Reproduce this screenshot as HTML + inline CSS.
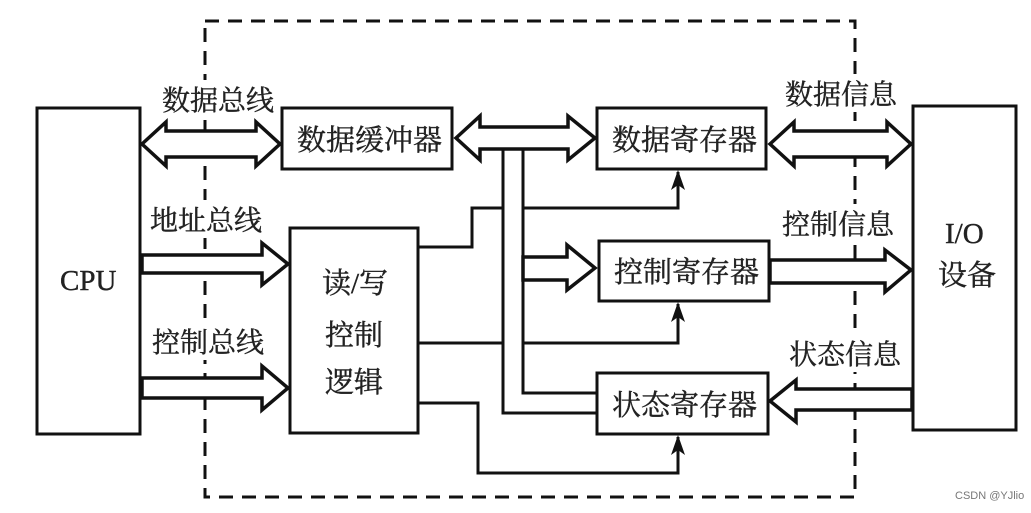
<!DOCTYPE html>
<html><head><meta charset="utf-8"><style>
body{margin:0;background:#fff;}
svg text{font-family:"Liberation Serif","Noto Serif CJK SC","Noto Sans CJK SC",serif;fill:#222;}
</style></head><body>
<svg width="1031" height="508" viewBox="0 0 1031 508" xmlns="http://www.w3.org/2000/svg">
<g fill="none" stroke="#111" stroke-width="3">
<rect x="205" y="21" width="650" height="476" stroke-dasharray="14,9"/>
</g>
<g fill="#fff">
<rect x="160" y="80" width="114" height="38"/>
<rect x="148" y="200" width="116" height="38"/>
<rect x="150" y="322" width="116" height="38"/>
<rect x="783" y="74" width="116" height="38"/>
<rect x="780" y="204" width="116" height="38"/>
<rect x="787" y="334" width="116" height="38"/>
</g>
<g fill="#fff" stroke="#111" stroke-width="3.5">
<polygon points="142,144 166,122 166,131 256,131 256,122 280,144 256,166 256,157 166,157 166,166"/>
<polygon points="142,255 262,255 262,243 288,264 262,285 262,273 142,273"/>
<polygon points="142,378 262,378 262,366 288,388 262,410 262,398 142,398"/>
<polygon points="456,138 480,116 480,127 568,127 568,116 595,138 568,160 568,149 480,149 480,160"/>
<polygon points="770,144 794,122 794,131 887,131 887,122 911,144 887,166 887,157 794,157 794,166"/>
<polygon points="770,260 885,260 885,250 911,270 885,292 885,283 770,283"/>
<polygon points="770,401 796,380 796,389 912,389 912,410 796,410 796,422"/>
<polygon points="523,257 567,257 567,245 595,268 567,290 567,280 523,280"/>
</g>
<g fill="none" stroke="#111" stroke-width="3">
<rect x="37" y="108" width="103" height="326"/>
<rect x="282" y="108" width="170" height="61"/>
<rect x="290" y="228" width="128" height="205"/>
<rect x="597" y="108" width="169" height="61"/>
<rect x="599" y="241" width="170" height="60"/>
<rect x="597" y="373" width="171" height="61"/>
<rect x="913" y="106" width="103" height="324"/>
<polyline points="503,149 503,413 597,413"/>
<polyline points="523,149 523,257"/>
<polyline points="523,280 523,393 597,393"/>
<polyline points="418,247 472,247 472,208 503,208"/>
<polyline points="523,208 678,208 678,172"/>
<polyline points="418,343 503,343"/>
<polyline points="523,343 678,343 678,304"/>
<polyline points="418,403 478,403 478,473 678,473 678,437"/>
</g>
<g fill="#111">
<polygon points="678,170 671,190 678,185 685,190"/>
<polygon points="678,302 671,322 678,317 685,322"/>
<polygon points="678,435 671,455 678,450 685,455"/>
</g>
<g font-size="28" stroke="#222" stroke-width="0.4">
<text x="162" y="110">数据总线</text>
<text x="150" y="230">地址总线</text>
<text x="152" y="352">控制总线</text>
<text x="785" y="104">数据信息</text>
<text x="782" y="234">控制信息</text>
<text x="789" y="364">状态信息</text>
</g>
<g font-size="29" stroke="#222" stroke-width="0.4">
<text x="297" y="150">数据缓冲器</text>
<text x="612" y="150">数据寄存器</text>
<text x="614" y="282">控制寄存器</text>
<text x="612" y="415">状态寄存器</text>
<text x="322" y="293">读/写</text>
<text x="325" y="345">控制</text>
<text x="325" y="392">逻辑</text>
<text x="60" y="290">CPU</text>
<text x="945" y="243">I/O</text>
<text x="938" y="285">设备</text>
</g>
<text x="955" y="499" font-size="11" style="font-family:'Liberation Sans',sans-serif;fill:#777">CSDN @YJlio</text>
</svg>
</body></html>
